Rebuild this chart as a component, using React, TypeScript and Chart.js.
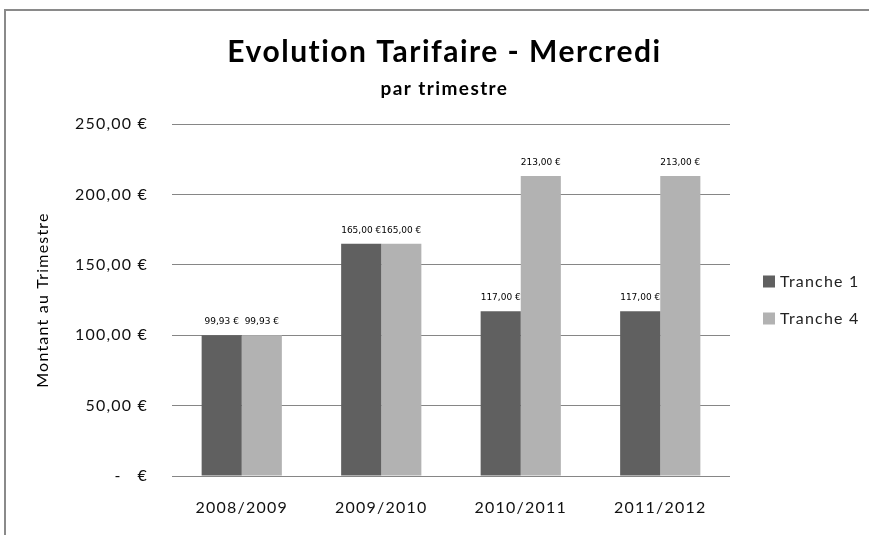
import React, { useEffect, useRef } from "react";
import { Chart, registerables } from "chart.js";

Chart.register(...registerables);

const categories = ["2008/2009", "2009/2010", "2010/2011", "2011/2012"];
const tranche1 = [99.93, 165.0, 117.0, 117.0];
const tranche4 = [99.93, 165.0, 213.0, 213.0];
const seriesNames = ["Tranche 1", "Tranche 4"];
const seriesColors = ["#606060", "#b2b2b2"];
const yTicks = [0, 50, 100, 150, 200, 250];
const titleText = "Evolution Tarifaire - Mercredi";
const subtitleText = "par trimestre";
const yAxisTitle = "Montant au Trimestre";

const fmtEuro = (v: number) =>
  v === 0 ? "-   €" : v.toFixed(2).replace(".", ",") + " €";

const FONT = "Lato, 'Open Sans', sans-serif";

const framePlugin = {
  id: "frame",
  beforeDraw(chart: any) {
    const ctx = chart.ctx;
    ctx.save();
    ctx.fillStyle = "#ffffff";
    ctx.fillRect(0, 0, chart.width, chart.height);
    ctx.strokeStyle = "#8a8a8a";
    ctx.lineWidth = 2;
    ctx.beginPath();
    ctx.moveTo(5, chart.height);
    ctx.lineTo(5, 10);
    ctx.lineTo(chart.width, 10);
    ctx.stroke();
    ctx.restore();
    // wider tracking for axis texts (Calibri-like spacing)
    ctx.letterSpacing = "1.2px";
  },
  beforeDatasetsDraw(chart: any) {
    chart.ctx.letterSpacing = "0px";
  },
};

const titlePlugin = {
  id: "customTitle",
  afterDraw(chart: any) {
    const ctx = chart.ctx;
    const cx = chart.width / 2 + 10;
    ctx.save();
    ctx.fillStyle = "#000";
    ctx.textAlign = "center";
    ctx.textBaseline = "middle";
    ctx.letterSpacing = "1.5px";
    ctx.font = "bold 30px " + FONT;
    ctx.fillText(titleText, cx, 52);
    ctx.font = "bold 19px " + FONT;
    ctx.letterSpacing = "1.4px";
    ctx.fillText(subtitleText, cx, 89);
    ctx.restore();
  },
};

const valueLabelPlugin = {
  id: "valueLabels",
  afterDatasetsDraw(chart: any) {
    const ctx = chart.ctx;
    ctx.save();
    ctx.letterSpacing = "0px";
    ctx.font = "9px 'DejaVu Sans', sans-serif";
    ctx.fillStyle = "#000";
    ctx.textAlign = "center";
    ctx.textBaseline = "bottom";
    chart.data.datasets.forEach((ds: any, i: number) => {
      const meta = chart.getDatasetMeta(i);
      meta.data.forEach((bar: any, j: number) => {
        ctx.fillText(fmtEuro(ds.data[j]), bar.x, bar.y - 9);
      });
    });
    ctx.restore();
  },
};

const legendPlugin = {
  id: "sideLegend",
  afterDraw(chart: any) {
    const ctx = chart.ctx;
    const area = chart.chartArea;
    const mid = (area.top + area.bottom) / 2;
    const n = chart.data.datasets.length;
    const gap = 37;
    ctx.save();
    ctx.letterSpacing = "1.2px";
    ctx.font = "16px " + FONT;
    ctx.textBaseline = "middle";
    ctx.textAlign = "left";
    chart.data.datasets.forEach((ds: any, i: number) => {
      const y = mid + (i - (n - 1) / 2) * gap;
      const x = area.right + 33;
      ctx.fillStyle = ds.backgroundColor;
      ctx.fillRect(x, y - 6, 12, 12);
      ctx.fillStyle = "#222";
      ctx.fillText(ds.label, x + 17, y);
    });
    ctx.restore();
  },
};

export default function App() {
  const ref = useRef<HTMLCanvasElement>(null);

  useEffect(() => {
    if (!ref.current) return;
    const chart = new Chart(ref.current, {
      type: "bar",
      data: {
        labels: categories,
        datasets: [
          {
            label: seriesNames[0],
            data: tranche1,
            backgroundColor: seriesColors[0],
            categoryPercentage: 0.575,
            barPercentage: 1,
          },
          {
            label: seriesNames[1],
            data: tranche4,
            backgroundColor: seriesColors[1],
            categoryPercentage: 0.575,
            barPercentage: 1,
          },
        ],
      },
      options: {
        responsive: false,
        animation: false,
        layout: { padding: { left: 0, right: 139, top: 124, bottom: 0 } },
        plugins: {
          legend: { display: false },
          tooltip: { enabled: false },
          title: { display: false },
        },
        scales: {
          x: {
            grid: { display: false, drawTicks: false },
            border: { display: false },
            ticks: {
              font: { family: FONT, size: 16 },
              color: "#111",
              padding: 22,
            },
            afterFit(scale: any) {
              scale.height = 59;
            },
          },
          y: {
            min: 0,
            max: 250,
            grid: { color: "#868686", lineWidth: 1, drawTicks: false },
            border: { display: false },
            afterBuildTicks(scale: any) {
              scale.ticks = yTicks.map((v) => ({ value: v }));
            },
            ticks: {
              font: { family: FONT, size: 16 },
              color: "#111",
              padding: 24,
              callback: (v: any) => fmtEuro(Number(v)),
            },
            title: {
              display: true,
              text: yAxisTitle,
              font: { family: FONT, size: 16 },
              color: "#000",
              padding: { top: 33, bottom: 0 },
            },
            afterFit(scale: any) {
              scale.width = 172;
            },
          },
        },
      },
      plugins: [framePlugin, valueLabelPlugin, legendPlugin, titlePlugin],
    });
    return () => chart.destroy();
  }, []);

  return (
    <div style={{ position: "absolute", left: 0, top: 0, width: 869, height: 535 }}>
      <canvas ref={ref} width={869} height={535} style={{ display: "block" }} />
    </div>
  );
}
